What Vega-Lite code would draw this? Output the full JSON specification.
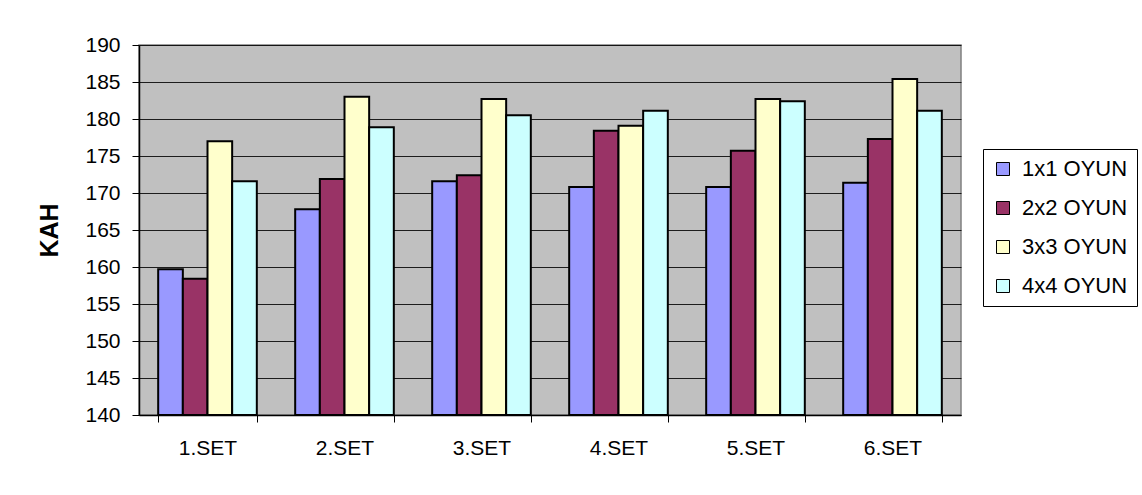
{
  "$schema": "https://vega.github.io/schema/vega-lite/v6.json",
  "autosize": {"type": "none"},
  "padding": {"left": 139, "top": 45, "right": 181, "bottom": 80},
  "width": 822,
  "height": 370,
  "background": "white",
  "config": {
    "font": "Liberation Sans",
    "view": {"fill": "#C0C0C0", "stroke": "#808080", "strokeWidth": 1.5}
  },
  "data": {
    "values": [
      {"set": "1.SET", "series": "1x1 OYUN", "value": 159.7},
      {"set": "1.SET", "series": "2x2 OYUN", "value": 158.4},
      {"set": "1.SET", "series": "3x3 OYUN", "value": 177.0},
      {"set": "1.SET", "series": "4x4 OYUN", "value": 171.6},
      {"set": "2.SET", "series": "1x1 OYUN", "value": 167.8},
      {"set": "2.SET", "series": "2x2 OYUN", "value": 171.9},
      {"set": "2.SET", "series": "3x3 OYUN", "value": 183.0},
      {"set": "2.SET", "series": "4x4 OYUN", "value": 178.9},
      {"set": "3.SET", "series": "1x1 OYUN", "value": 171.6},
      {"set": "3.SET", "series": "2x2 OYUN", "value": 172.4},
      {"set": "3.SET", "series": "3x3 OYUN", "value": 182.7},
      {"set": "3.SET", "series": "4x4 OYUN", "value": 180.5},
      {"set": "4.SET", "series": "1x1 OYUN", "value": 170.8},
      {"set": "4.SET", "series": "2x2 OYUN", "value": 178.4},
      {"set": "4.SET", "series": "3x3 OYUN", "value": 179.1},
      {"set": "4.SET", "series": "4x4 OYUN", "value": 181.1},
      {"set": "5.SET", "series": "1x1 OYUN", "value": 170.8},
      {"set": "5.SET", "series": "2x2 OYUN", "value": 175.7},
      {"set": "5.SET", "series": "3x3 OYUN", "value": 182.7},
      {"set": "5.SET", "series": "4x4 OYUN", "value": 182.4},
      {"set": "6.SET", "series": "1x1 OYUN", "value": 171.4},
      {"set": "6.SET", "series": "2x2 OYUN", "value": 177.3},
      {"set": "6.SET", "series": "3x3 OYUN", "value": 185.4},
      {"set": "6.SET", "series": "4x4 OYUN", "value": 181.1}
    ]
  },
  "mark": {"type": "bar", "stroke": "black", "strokeWidth": 2},
  "encoding": {
    "x": {
      "field": "set",
      "type": "nominal",
      "scale": {"paddingInner": 0.28, "paddingOuter": 0.14},
      "axis": {
        "title": null,
        "labelAngle": 0,
        "labelFontSize": 21,
        "labelColor": "black",
        "labelPadding": 15,
        "tickBand": "extent",
        "tickSize": 7,
        "tickColor": "black",
        "domainColor": "black",
        "domainWidth": 1.5,
        "grid": false
      }
    },
    "xOffset": {
      "field": "series",
      "type": "nominal",
      "sort": ["1x1 OYUN", "2x2 OYUN", "3x3 OYUN", "4x4 OYUN"],
      "scale": {"paddingInner": 0, "paddingOuter": 0}
    },
    "y": {
      "field": "value",
      "type": "quantitative",
      "scale": {"domain": [140, 190], "nice": false, "zero": false},
      "axis": {
        "values": [140, 145, 150, 155, 160, 165, 170, 175, 180, 185, 190],
        "title": "KAH",
        "titleFontSize": 25,
        "titleFontWeight": "bold",
        "titleColor": "black",
        "titlePadding": 22,
        "labelFontSize": 21,
        "labelColor": "black",
        "labelPadding": 12,
        "tickSize": 7,
        "tickColor": "black",
        "domainColor": "black",
        "domainWidth": 1.5,
        "grid": true,
        "gridColor": "black",
        "gridWidth": 1,
        "gridOpacity": 0.85
      }
    },
    "y2": {"datum": 140},
    "color": {
      "field": "series",
      "type": "nominal",
      "scale": {
        "domain": ["1x1 OYUN", "2x2 OYUN", "3x3 OYUN", "4x4 OYUN"],
        "range": ["#9999FF", "#993366", "#FFFFCC", "#CCFFFF"]
      },
      "legend": {
        "title": null,
        "orient": "none",
        "legendX": 844,
        "legendY": 104,
        "strokeColor": "black",
        "fillColor": "white",
        "padding": 9,
        "labelFontSize": 22,
        "labelColor": "black",
        "labelOffset": 8,
        "symbolType": "square",
        "symbolSize": 169,
        "symbolStrokeColor": "black",
        "symbolStrokeWidth": 1,
        "rowPadding": 17
      }
    }
  }
}
